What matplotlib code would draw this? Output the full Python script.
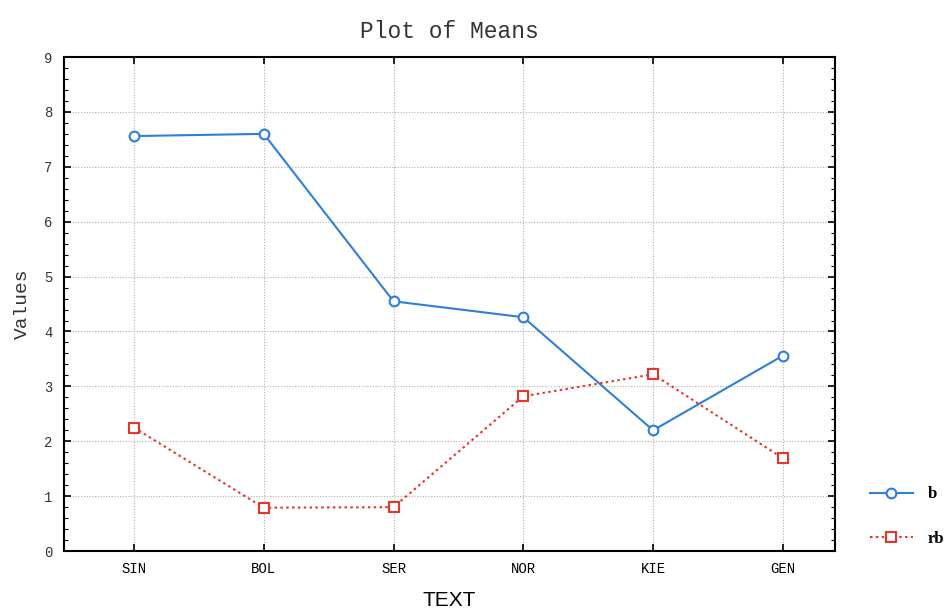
import matplotlib
matplotlib.use("Agg")
import matplotlib.pyplot as plt
from matplotlib.ticker import MultipleLocator
import numpy as np

# category means for the two groups
categories = ["SIN", "BOL", "SER", "NOR", "KIE", "GEN"]
means_b = [7.56, 7.60, 4.55, 4.26, 2.20, 3.56]
means_rb = [2.25, 0.79, 0.80, 2.82, 3.22, 1.69]
series_names = ["b", "rb"]

mono = "Liberation Mono"

fig = plt.figure(figsize=(9.53, 6.13), dpi=100)
ax = fig.add_axes([0.067, 0.101, 0.809, 0.806])

x = np.arange(len(categories))
ax.plot(x, means_b, color="#2f7fd8", lw=1.5, marker="o", ms=7,
        mfc="white", mec="#2f7fd8", mew=1.5, label=series_names[0])
ax.plot(x, means_rb, color="#e8352b", lw=1.5, ls=(0, (1.2, 1.6)), marker="s", ms=7,
        mfc="white", mec="#e8352b", mew=1.5, label=series_names[1])

ax.set_xlim(-0.54, 5.4)
ax.set_ylim(0, 9)
ax.set_xticks(x)
ax.set_xticklabels(categories, fontfamily=mono, fontsize=10)
ax.yaxis.set_major_locator(MultipleLocator(1))
ax.yaxis.set_minor_locator(MultipleLocator(0.2))
for lbl in ax.get_yticklabels():
    lbl.set_fontfamily(mono)
    lbl.set_fontsize(10)
    lbl.set_color("#333333")

ax.tick_params(which="both", direction="in", top=True, right=True, color="black")
ax.tick_params(which="major", length=5, width=1.2, pad=8)
ax.tick_params(which="minor", length=3, width=0.8)
ax.tick_params(axis="x", which="minor", top=False, bottom=False)

ax.grid(True, which="major", color="#b0b0b0", ls=(0, (1, 1.5)), lw=0.8)
for sp in ax.spines.values():
    sp.set_linewidth(1.5)

ax.set_title("Plot of Means", fontfamily=mono, fontsize=16.5, color="#333333", pad=14)
ax.set_ylabel("Values", fontfamily=mono, fontsize=14, color="#333333", labelpad=10)
ax.set_xlabel("TEXT", fontfamily="Liberation Sans", fontsize=15, labelpad=11)

leg = ax.legend(loc="center left", bbox_to_anchor=(1.03, 0.07), frameon=False,
                handlelength=2.6, handletextpad=0.9, labelspacing=1.7, borderaxespad=0.3,
                prop={"family": "Liberation Serif", "weight": "bold", "size": 12})

plt.savefig("out.png", dpi=100)
